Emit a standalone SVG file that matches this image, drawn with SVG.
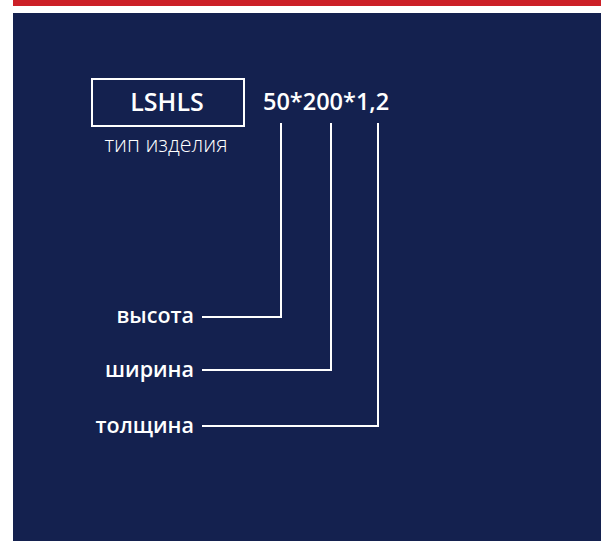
<svg xmlns="http://www.w3.org/2000/svg" width="601" height="541" viewBox="0 0 601 541">
<style>
.t{font-family:"Open Sans","Liberation Sans",sans-serif;fill:#fff}
.b{font-weight:600}
.c{stroke:#fff;stroke-width:2;fill:none}
</style>
<rect x="0" y="0" width="601" height="541" fill="#fff"/>
<rect x="13" y="0" width="588" height="6" fill="#cc2027"/>
<rect x="13" y="13" width="588" height="528" fill="#14214f"/>
<g id="type">
<rect x="92" y="79" width="152" height="47" fill="none" stroke="#fff" stroke-width="2"/>
<text class="t b" x="167" y="111" font-size="25" text-anchor="middle">LSHLS</text>
<text class="t" x="166" y="152" font-size="21.5" font-weight="300" text-anchor="middle">тип изделия</text>
</g>
<g id="size">
<text class="t b" x="263" y="110" font-size="23.5">50*200*1,2</text>
</g>
<g id="height"><text class="t b" x="194" y="323" font-size="21.5" text-anchor="end">высота</text></g>
<g id="width"><text class="t b" x="194" y="377" font-size="21.5" text-anchor="end">ширина</text></g>
<g id="thickness"><text class="t b" x="194" y="433" font-size="21.5" text-anchor="end">толщина</text></g>
<g id="connectors">
<polyline class="c" points="281,123 281,317 202,317"/>
<polyline class="c" points="331,123 331,370 202,370"/>
<polyline class="c" points="378,123 378,426 202,426"/>
</g>
</svg>
